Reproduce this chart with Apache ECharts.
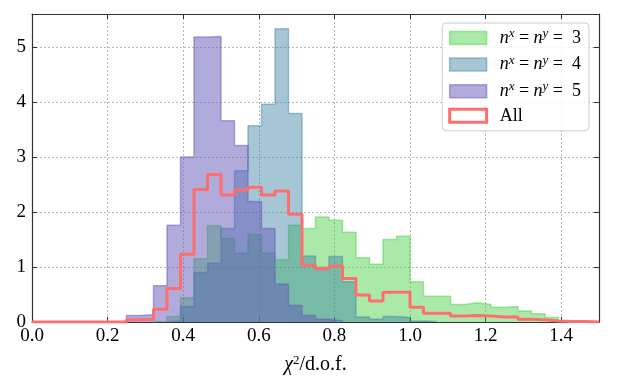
<!DOCTYPE html>
<html>
<head>
<meta charset="utf-8">
<script src="https://cdn.jsdelivr.net/npm/echarts@6/dist/echarts.min.js"></script>
<style>
html,body{margin:0;padding:0;background:#fff;}
#chart{width:631px;height:390px;}
</style>
</head>
<body>
<div id="chart"></div>
<script>
// Histogram bins: 42 equal bins from 0 to 1.5
const binStart = 0.0;
const binEnd = 1.5;
const binCount = 42;

// n^x = n^y = 3
const valuesN3 = [0,0,0,0,0,0,0,0,0,0.01,
  0.10,0.44,1.15,1.75,1.52,1.25,1.59,1.25,1.13,1.76,
  1.70,1.91,1.85,1.63,1.17,1.05,1.50,1.56,0.73,0.47,
  0.47,0.32,0.35,0.32,0.27,0.28,0.20,0.15,0.08,0.01,
  0,0];
// n^x = n^y = 4
const valuesN4 = [0,0,0,0,0,0,0,0,0,0,
  0.02,0.28,0.90,1.07,1.70,2.75,3.57,3.96,5.33,3.79,
  1.20,0.99,1.19,0.73,0.09,0.05,0.10,0.08,0.02,0.01,
  0,0,0,0,0,0,0,0,0,0,
  0,0];
// n^x = n^y = 5
const valuesN5 = [0,0,0,0,0,0,0,0.12,0.13,0.66,
  1.76,3.00,5.18,5.19,3.66,3.21,2.19,1.70,0.69,0.30,
  0.12,0.05,0.02,0,0,0,0,0,0,0,
  0,0,0,0,0,0,0,0,0,0,
  0,0];
// All
const valuesAll = [0,0,0,0,0,0,0,0.04,0.05,0.23,
  0.61,1.23,2.41,2.68,2.31,2.40,2.45,2.31,2.38,1.96,
  1.03,0.97,1.02,0.79,0.49,0.38,0.54,0.54,0.27,0.16,
  0.16,0.11,0.12,0.11,0.09,0.09,0.05,0.04,0.02,0.01,
  0.01,0];

const xTicks = [0.0,0.2,0.4,0.6,0.8,1.0,1.2,1.4];
const yTicks = [0,1,2,3,4,5];

const seriesNames = ['n3','n4','n5','All'];
const fillColors = ['rgba(45,200,40,0.4)','rgba(57,128,164,0.45)','rgba(100,88,185,0.5)'];
const allColor = '#ff6e6e';

const binW = (binEnd - binStart) / binCount;
function edge(k){ return binStart + k * binW; }

// stepfilled polygon points (data coordinates), only over the non-zero span
function stepFilled(vals){
  let s = vals.findIndex(v => v > 0);
  let t = vals.length - 1;
  while (t > 0 && !(vals[t] > 0)) t--;
  const pts = [[edge(s), 0]];
  for (let k = s; k <= t; k++) pts.push([edge(k), vals[k]]);
  pts.push([edge(t + 1), 0]);
  return pts;
}
function stepLine(vals){
  const pts = [];
  for (let k = 0; k < vals.length; k++) pts.push([edge(k), vals[k]]);
  pts.push([edge(vals.length), vals[vals.length - 1]]);
  return pts;
}

const serif = '"Liberation Serif","DejaVu Serif",serif';
const legendRich = {
  i: {fontFamily: serif, fontStyle: 'italic', fontSize: 18, color: '#000', lineHeight: 20},
  s: {fontFamily: serif, fontStyle: 'italic', fontSize: 13, color: '#000', lineHeight: 20, padding: [0,0,9,0]},
  r: {fontFamily: serif, fontSize: 18, color: '#000', lineHeight: 20}
};
const legendText = {
  n3: '{i|n}{s|x}{r| = }{i|n}{s|y}{r| =  3}',
  n4: '{i|n}{s|x}{r| = }{i|n}{s|y}{r| =  4}',
  n5: '{i|n}{s|x}{r| = }{i|n}{s|y}{r| =  5}',
  All: '{r|All}'
};

const chart = echarts.init(document.getElementById('chart'), null, {renderer: 'canvas'});

const fillSeries = [valuesN3, valuesN4, valuesN5].map((vals, i) => ({
  name: seriesNames[i],
  type: 'line',
  step: 'end',
  data: stepFilled(vals),
  showSymbol: false,
  symbol: 'none',
  itemStyle: {color: fillColors[i]},
  lineStyle: {color: fillColors[i], width: 1.5},
  areaStyle: {color: fillColors[i], opacity: 1},
  z: 2 + i
}));

const option = {
  animation: false,
  grid: {left: 32, right: 32, top: 14, bottom: 68, containLabel: false},
  legend: {
    right: 42,
    top: 23,
    orient: 'vertical',
    itemWidth: 37,
    itemHeight: 13,
    itemGap: 4.6,
    padding: [4, 8, 6, 6],
    backgroundColor: 'rgba(255,255,255,0.85)',
    borderColor: '#cccccc',
    borderWidth: 1,
    borderRadius: 4,
    textStyle: {fontFamily: serif, fontSize: 18, color: '#000', padding: [0,0,0,8], rich: legendRich},
    formatter: name => legendText[name],
    data: [
      {name: 'n3', icon: 'rect', itemStyle: {color: fillColors[0], borderColor: fillColors[0], borderWidth: 1.5}},
      {name: 'n4', icon: 'rect', itemStyle: {color: fillColors[1], borderColor: fillColors[1], borderWidth: 1.5}},
      {name: 'n5', icon: 'rect', itemStyle: {color: fillColors[2], borderColor: fillColors[2], borderWidth: 1.5}},
      {name: 'All', icon: 'rect', itemStyle: {color: '#ffffff', borderColor: allColor, borderWidth: 3}}
    ]
  },
  xAxis: [{
    type: 'value', min: binStart, max: binEnd, interval: 0.2,
    position: 'bottom',
    name: '{i|χ}{s|2}{r|/d.o.f.}',
    nameLocation: 'middle', nameGap: 32,
    nameTextStyle: {rich: {
      i: {fontFamily: serif, fontStyle: 'italic', fontSize: 20, color: '#000'},
      s: {fontFamily: serif, fontSize: 13, color: '#000', padding: [0,0,9,0]},
      r: {fontFamily: serif, fontSize: 20, color: '#000'}
    }},
    axisLine: {show: true, onZero: false, lineStyle: {color: '#333', width: 1.2}},
    axisTick: {show: true, inside: true, length: 5, lineStyle: {color: '#333'}},
    axisLabel: {fontFamily: serif, fontSize: 19, color: '#000', margin: 5, showMaxLabel: false,
      formatter: v => xTicks.some(t => Math.abs(t - v) < 1e-9) ? v.toFixed(1) : ''},
    splitLine: {show: true, lineStyle: {type: [2, 2], color: '#b8b8b8', width: 1}}
  }, {
    type: 'value', min: binStart, max: binEnd, interval: 0.2,
    position: 'top',
    axisLine: {show: true, onZero: false, lineStyle: {color: '#333', width: 1.2}},
    axisTick: {show: true, inside: true, length: 5, lineStyle: {color: '#333'}},
    axisLabel: {show: false},
    splitLine: {show: false}
  }],
  yAxis: [{
    type: 'value', min: 0, max: 5.6, interval: 1,
    position: 'left',
    axisLine: {show: true, onZero: false, lineStyle: {color: '#333', width: 1.2}},
    axisTick: {show: true, inside: true, length: 5, lineStyle: {color: '#333'}},
    axisLabel: {fontFamily: serif, fontSize: 19, color: '#000', margin: 6, showMaxLabel: false,
      formatter: v => yTicks.includes(v) ? String(v) : ''},
    splitLine: {show: true, lineStyle: {type: [2, 2], color: '#b8b8b8', width: 1}}
  }, {
    type: 'value', min: 0, max: 5.6, interval: 1,
    position: 'right',
    axisLine: {show: true, onZero: false, lineStyle: {color: '#333', width: 1.2}},
    axisTick: {show: true, inside: true, length: 5, lineStyle: {color: '#333'}},
    axisLabel: {show: false},
    splitLine: {show: false}
  }],
  series: fillSeries.concat([{
    name: 'All',
    type: 'line',
    step: 'end',
    data: stepLine(valuesAll),
    showSymbol: false,
    symbol: 'none',
    itemStyle: {color: allColor},
    lineStyle: {color: allColor, width: 3},
    z: 10
  }])
};
chart.setOption(option);
</script>
</body>
</html>
